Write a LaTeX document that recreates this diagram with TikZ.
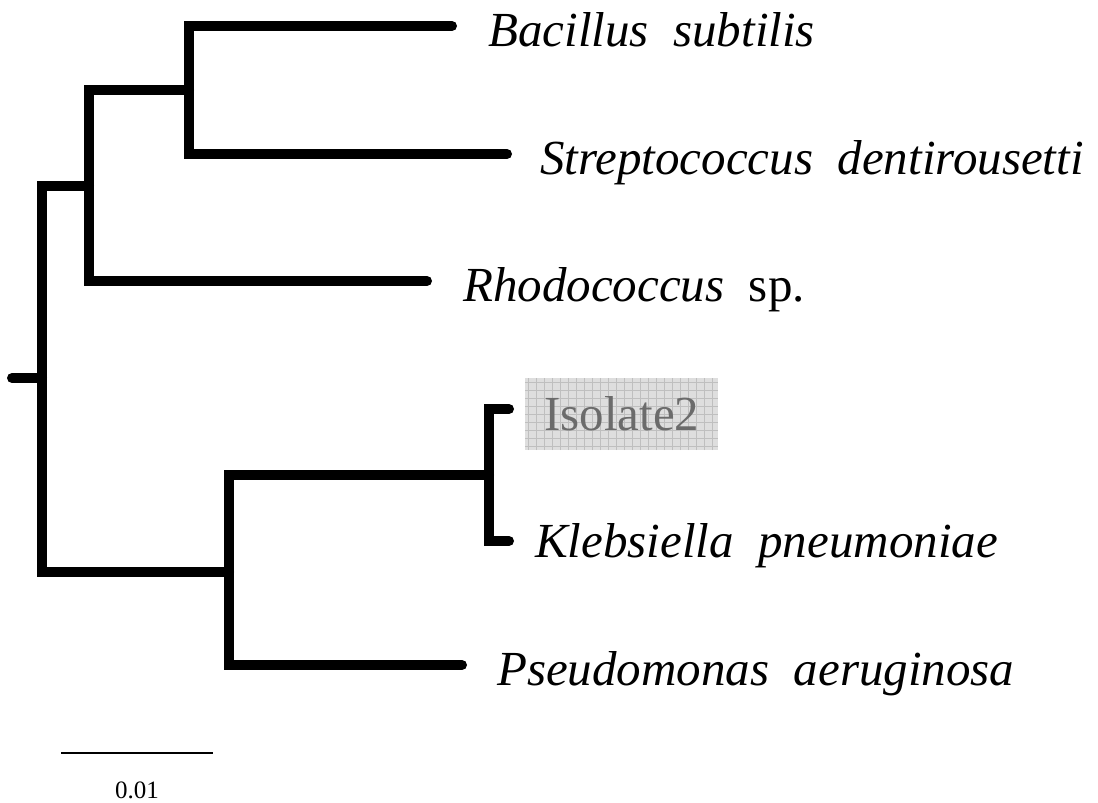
\documentclass[tikz,border=0pt]{standalone}
\usepackage{fontspec}
\setmainfont{Liberation Serif}
\usetikzlibrary{positioning}

\begin{document}
\begin{tikzpicture}[
  x=1pt, y=-1pt,
  branch/.style={line width=10pt, line cap=round},
  taxon/.style={font=\fontsize{49}{58}\selectfont\itshape, inner sep=0pt, anchor=base west},
  isobox/.style={fill=black!13, text=black!58, font=\fontsize{49}{58}\selectfont,
        minimum width=193pt, minimum height=72pt, inner sep=0pt,
        text height=33pt, text depth=0pt,
        path picture={\draw[black!25, line width=0.6pt, step=8pt]
          (path picture bounding box.south west) grid (path picture bounding box.north east);}},
  scalebar/.style={line width=2pt},
]
  \useasboundingbox (0,0) rectangle (1098,803);

  % --- inner nodes of the tree ---
  \coordinate (r0) at (12,378);
  \coordinate (nA) at (42,378);
  \coordinate (nB) at (89,186);
  \coordinate (nC) at (189,90);
  \coordinate (nE) at (229,572);
  \coordinate (nF) at (489,475);

  % --- tips ---
  \coordinate (tBac) at (452,26);
  \coordinate (tStr) at (507,154);
  \coordinate (tRho) at (427,281);
  \coordinate (tIso) at (509,409);
  \coordinate (tKle) at (509,541);
  \coordinate (tPse) at (462,665);

  % branches
  \draw[branch] (r0) -- (nA);
  \draw[branch] (nA) |- (nB);
  \draw[branch] (nA) |- (nE);
  \draw[branch] (nB) |- (nC);
  \draw[branch] (nB) |- (tRho);
  \draw[branch] (nC) |- (tBac);
  \draw[branch] (nC) |- (tStr);
  \draw[branch] (nE) |- (nF);
  \draw[branch] (nE) |- (tPse);
  \draw[branch] (nF) |- (tIso);
  \draw[branch] (nF) |- (tKle);

  % --- labels ---
  \node[taxon] (lBac) at ([xshift=36pt, yshift=-20pt]tBac) {Bacillus\hspace{0.5em}subtilis};
  \node[taxon] (lStr) at ([xshift=33pt, yshift=-20pt]tStr) {Streptococcus\hspace{0.5em}dentirousetti};
  \node[taxon] (lRho) at ([xshift=36pt, yshift=-20pt]tRho) {Rhodococcus\hspace{0.5em}\upshape sp.};
  \node[taxon] (lKle) at ([xshift=26pt, yshift=-16pt]tKle) {Klebsiella\hspace{0.5em}pneumoniae};
  \node[taxon] (lPse) at ([xshift=35pt, yshift=-20pt]tPse) {Pseudomonas\hspace{0.5em}aeruginosa};
  \node[isobox, right=16pt of tIso, yshift=-5pt] (lIso) {Isolate2};

  % --- scale bar ---
  \coordinate (s0) at (61,753);
  \coordinate (s1) at (213,753);
  \draw[scalebar] (s0) -- (s1)
    node[midway, anchor=base, yshift=-45pt, font=\fontsize{25}{30}\selectfont] (sLab) {0.01};
\end{tikzpicture}
\end{document}
